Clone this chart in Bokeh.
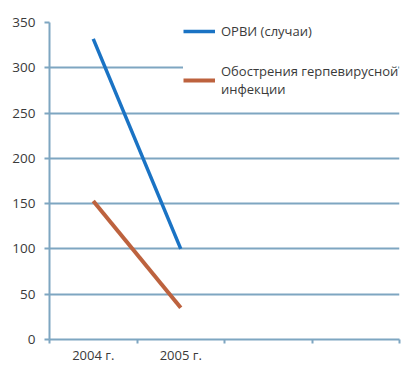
from bokeh.plotting import figure
from bokeh.models import Range1d, FixedTicker, Legend, LegendItem
from bokeh.embed import file_html
from bokeh.resources import INLINE

# Data
categories = ["2004 г.", "2005 г."]
n_slots = 4
orvi = [332, 100]
herpes = [153, 35]
series_names = ["ОРВИ (случаи)", "Обострения герпевирусной\nинфекции"]
y_ticks = [0, 50, 100, 150, 200, 250, 300, 350]

x_pos = [i + 0.5 for i in range(len(categories))]

GRID = "#7ea6c1"
TXT = "#3a3a3a"
FONT = "Open Sans"

p = figure(width=403, height=366, output_backend="svg", toolbar_location=None,
           x_range=Range1d(0, n_slots), y_range=Range1d(0, 350),
           min_border_left=49, min_border_right=4, min_border_top=22, min_border_bottom=26)
p.outline_line_color = None
p.background_fill_color = "white"
p.border_fill_color = "white"

r1 = p.line(x_pos, orvi, line_color="#1a73c4", line_width=3.5)
r2 = p.line(x_pos, herpes, line_color="#bd623e", line_width=4)

# x axis
p.xaxis.ticker = FixedTicker(ticks=x_pos, minor_ticks=list(range(n_slots + 1)))
p.xaxis.major_label_overrides = {x: c for x, c in zip(x_pos, categories)}
p.xaxis.major_tick_out = 0
p.xaxis.major_tick_in = 0
p.xaxis.minor_tick_out = 4
p.xaxis.minor_tick_in = 0
p.xaxis.minor_tick_line_color = GRID
p.xaxis.minor_tick_line_width = 2
p.xaxis.major_label_standoff = 2
p.xgrid.visible = False

# y axis
p.yaxis.ticker = FixedTicker(ticks=y_ticks)
p.yaxis.major_tick_out = 5
p.yaxis.major_tick_in = 0
p.yaxis.minor_tick_line_color = None
p.yaxis.major_label_standoff = 9
p.ygrid.ticker = FixedTicker(ticks=y_ticks)
p.ygrid.grid_line_color = GRID
p.ygrid.grid_line_width = 2

for ax in (p.xaxis, p.yaxis):
    ax.axis_line_color = GRID
    ax.axis_line_width = 2
    ax.major_tick_line_color = GRID
    ax.major_tick_line_width = 2
    ax.major_label_text_font = FONT
    ax.major_label_text_color = TXT
p.xaxis.major_label_text_font_size = "13px"
p.yaxis.major_label_text_font_size = "13.5px"

legend = Legend(items=[LegendItem(label=series_names[0], renderers=[r1]),
                       LegendItem(label=series_names[1], renderers=[r2])],
                location=(134, 241), margin=0, padding=0, spacing=22,
                glyph_width=32, glyph_height=12, label_standoff=6,
                label_text_font=FONT, label_text_font_size="13px",
                label_text_color=TXT, border_line_color=None,
                background_fill_color="white", background_fill_alpha=1)
p.add_layout(legend)

open("out.html", "w").write(file_html(p, INLINE))
